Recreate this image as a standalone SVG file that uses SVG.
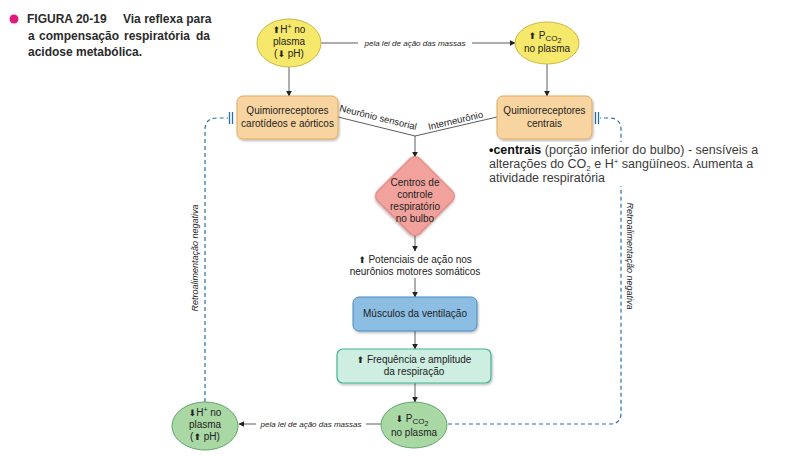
<svg xmlns="http://www.w3.org/2000/svg" width="787" height="456" viewBox="0 0 787 456">
<defs>
<filter id="sh" x="-20%" y="-20%" width="150%" height="150%"><feDropShadow dx="1" dy="1.5" stdDeviation="1" flood-color="#000" flood-opacity="0.28"/></filter>
<marker id="ah" viewBox="0 0 10 10" refX="9" refY="5" markerWidth="6" markerHeight="6" markerUnits="userSpaceOnUse" orient="auto"><path d="M0,0 L10,5 L0,10 Z" fill="#222"/></marker>
</defs>
<style>
text{font-family:"Liberation Sans",Arial,sans-serif;fill:#222}
.n{font-size:10px;text-anchor:middle}
.lbl{font-size:8px;font-style:italic;text-anchor:middle}
.ttl{font-size:12px;font-weight:bold;fill:#2b2b2b}
.ar{font-family:"DejaVu Sans",sans-serif;font-size:9px}
.conn{stroke:#333;stroke-width:0.8;fill:none}
.dash{stroke:#2a6fa8;stroke-width:1.2;fill:none;stroke-dasharray:4 3}
.bar{stroke:#2a6fa8;stroke-width:1.3}
.yel{fill:#f6e86a;stroke:#cdb845;stroke-width:1}
.org{fill:#f8d5a0;stroke:#e0a95f;stroke-width:1}
.grn{fill:#a9d8a5;stroke:#5ea86a;stroke-width:1}
.fb{font-size:9px;font-style:italic}
.ann{font-size:12.5px;fill:#3a3a3a}
</style>

<g id="title">
<circle cx="14" cy="19" r="4.5" fill="#e0197d"/>
<text class="ttl" x="27" y="23">FIGURA 20-19</text>
<text class="ttl" x="123" y="23">Via reflexa para</text>
<text class="ttl" y="40"><tspan x="28">a</tspan><tspan x="39">compensação</tspan><tspan x="124">respiratória</tspan><tspan x="196">da</tspan></text>
<text class="ttl" x="28" y="56">acidose metabólica.</text>
</g>

<g id="connectors">
<line class="conn" x1="321" y1="43" x2="358" y2="43"/>
<line class="conn" x1="472" y1="43" x2="515" y2="43" marker-end="url(#ah)"/>
<text class="lbl" x="415" y="46">pela lei de ação das massas</text>
<line class="conn" x1="289" y1="67" x2="289" y2="96" marker-end="url(#ah)"/>
<line class="conn" x1="547" y1="64" x2="547" y2="96" marker-end="url(#ah)"/>
<polyline class="conn" points="338,117 415,136 497,117"/>
<text x="339" y="111" font-size="9.5" transform="rotate(13.9 339 111)">Neurônio sensorial</text>
<text x="429" y="130" font-size="9.5" transform="rotate(-13 429 130)">Interneurônio</text>
<line class="conn" x1="415" y1="136" x2="415" y2="157" marker-end="url(#ah)"/>
<line class="conn" x1="415" y1="235" x2="415" y2="251" marker-end="url(#ah)"/>
<line class="conn" x1="415" y1="278" x2="415" y2="297" marker-end="url(#ah)"/>
<line class="conn" x1="415" y1="331" x2="415" y2="349" marker-end="url(#ah)"/>
<line class="conn" x1="415" y1="383" x2="415" y2="402" marker-end="url(#ah)"/>
<line class="conn" x1="381" y1="424" x2="366" y2="424"/>
<line class="conn" x1="256" y1="424" x2="239" y2="424" marker-end="url(#ah)"/>
<text class="lbl" x="311" y="427">pela lei de ação das massas</text>
<path class="dash" d="M205,402 V130 Q205,118 217,118 H228"/>
<line class="bar" x1="229.5" y1="112" x2="229.5" y2="124"/>
<line class="bar" x1="232.5" y1="112" x2="232.5" y2="124"/>
<path class="dash" d="M448,424 H610 Q621,424 621,413 V130 Q621,118 609,118 H600"/>
<line class="bar" x1="595.5" y1="112" x2="595.5" y2="124"/>
<line class="bar" x1="598.5" y1="112" x2="598.5" y2="124"/>
<text class="fb" transform="translate(198 258) rotate(-90)" text-anchor="middle">Retroalimentação negativa</text>
<text class="fb" transform="translate(627 256) rotate(90)" text-anchor="middle">Retroalimentação negativa</text>
</g>

<g id="h-plasma-up">
<ellipse class="yel" cx="289" cy="43" rx="32" ry="24"/>
<text class="n" x="289" y="33"><tspan class="ar">⬆</tspan>H<tspan font-size="7" dy="-4">+</tspan><tspan dy="4"> no</tspan></text>
<text class="n" x="289" y="45">plasma</text>
<text class="n" x="289" y="57">(<tspan class="ar">⬇</tspan> pH)</text>
</g>

<g id="pco2-up">
<ellipse class="yel" cx="547" cy="43" rx="32" ry="21"/>
<text class="n" x="545" y="39"><tspan class="ar">⬆</tspan> P<tspan font-size="8" dy="2">CO</tspan><tspan font-size="7" dy="2">2</tspan></text>
<text class="n" x="547" y="52">no plasma</text>
</g>

<g id="quimio-perifericos">
<rect class="org" x="237" y="96" width="101" height="43" rx="6" filter="url(#sh)"/>
<text class="n" x="287.5" y="114">Quimiorreceptores</text>
<text class="n" x="287.5" y="127">carotídeos e aórticos</text>
</g>

<g id="quimio-centrais">
<rect class="org" x="497" y="96" width="95" height="43" rx="6" filter="url(#sh)"/>
<text class="n" x="544.5" y="114">Quimiorreceptores</text>
<text class="n" x="544.5" y="127">centrais</text>
</g>

<g id="anotacao">
<rect x="487" y="142" width="300" height="44" fill="#fff"/>
<text class="ann" x="489" y="154"><tspan font-weight="bold" fill="#111">•centrais</tspan> (porção inferior do bulbo) - sensíveis a</text>
<text class="ann" x="489" y="168">alterações do CO<tspan font-size="8" dy="3">2</tspan><tspan dy="-3"> e H</tspan><tspan font-size="8" dy="-4">+</tspan><tspan dy="4"> sangüíneos. Aumenta a</tspan></text>
<text class="ann" x="489" y="182">atividade respiratória</text>
</g>

<g id="centros-controle">
<rect x="-30" y="-30" width="60" height="60" rx="7" transform="translate(415 196) rotate(45)" fill="#f2a29d" stroke="#d9716b" stroke-width="1" filter="url(#sh)"/>
<text class="n" x="415" y="186">Centros de</text>
<text class="n" x="415" y="198">controle</text>
<text class="n" x="415" y="210">respiratório</text>
<text class="n" x="415" y="222">no bulbo</text>
</g>

<g id="potenciais">
<text class="n" x="415" y="263"><tspan class="ar">⬆</tspan> Potenciais de ação nos</text>
<text class="n" x="415" y="275">neurônios motores somáticos</text>
</g>

<g id="musculos">
<rect x="353" y="297" width="124" height="34" rx="6" fill="#8cbde2" stroke="#4a8cc2" stroke-width="1" filter="url(#sh)"/>
<text class="n" x="415" y="317">Músculos da ventilação</text>
</g>

<g id="frequencia">
<rect x="337" y="349" width="154" height="34" rx="6" fill="#cdeee1" stroke="#45b596" stroke-width="1.2" filter="url(#sh)"/>
<text class="n" x="414" y="363"><tspan class="ar">⬆</tspan> Frequência e amplitude</text>
<text class="n" x="414" y="375">da respiração</text>
</g>

<g id="pco2-down">
<ellipse class="grn" cx="414" cy="425" rx="33" ry="23"/>
<text class="n" x="412" y="422"><tspan class="ar">⬇</tspan> P<tspan font-size="8" dy="2">CO</tspan><tspan font-size="7" dy="2">2</tspan></text>
<text class="n" x="414" y="436">no plasma</text>
</g>

<g id="h-plasma-down">
<ellipse class="grn" cx="205" cy="426" rx="33" ry="24"/>
<text class="n" x="205" y="416"><tspan class="ar">⬇</tspan>H<tspan font-size="7" dy="-4">+</tspan><tspan dy="4"> no</tspan></text>
<text class="n" x="205" y="428">plasma</text>
<text class="n" x="205" y="440">(<tspan class="ar">⬆</tspan> pH)</text>
</g>
</svg>
